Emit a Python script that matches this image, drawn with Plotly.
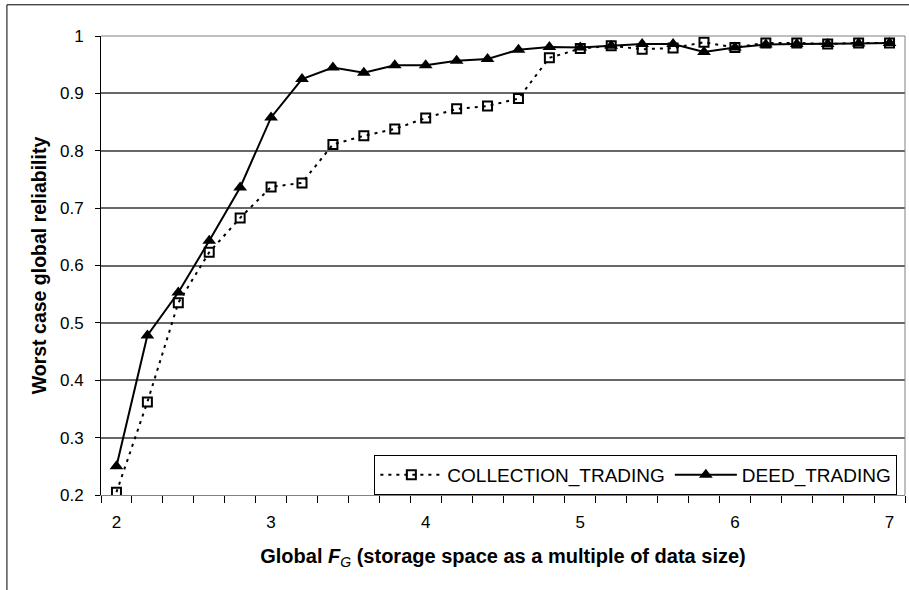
import plotly.graph_objects as go

fg_values = [2.0, 2.2, 2.4, 2.6, 2.8, 3.0, 3.2, 3.4, 3.6, 3.8, 4.0, 4.2, 4.4,
             4.6, 4.8, 5.0, 5.2, 5.4, 5.6, 5.8, 6.0, 6.2, 6.4, 6.6, 6.8, 7.0]
collection_trading = [0.205, 0.362, 0.535, 0.623, 0.683, 0.737, 0.744, 0.811, 0.826,
                      0.838, 0.857, 0.873, 0.878, 0.891, 0.962, 0.978, 0.983, 0.977,
                      0.979, 0.989, 0.980, 0.988, 0.988, 0.986, 0.988, 0.988]
deed_trading = [0.250, 0.478, 0.553, 0.643, 0.736, 0.858, 0.925, 0.945, 0.936,
                0.949, 0.949, 0.957, 0.960, 0.976, 0.981, 0.980, 0.983, 0.986,
                0.986, 0.972, 0.980, 0.985, 0.986, 0.986, 0.987, 0.988]
x_tick_labels = [2, 3, 4, 5, 6, 7]
y_tick_labels = [0.2, 0.3, 0.4, 0.5, 0.6, 0.7, 0.8, 0.9, 1.0]

FONT = "Liberation Sans, Arial, sans-serif"

fig = go.Figure()
fig.add_trace(go.Scatter(
    x=fg_values, y=collection_trading, name="COLLECTION_TRADING",
    mode="lines+markers",
    line=dict(color="black", width=2, dash="3px,5px"),
    marker=dict(symbol="square-open", size=9, color="black", line=dict(width=2, color="black")),
))
fig.add_trace(go.Scatter(
    x=fg_values, y=deed_trading, name="DEED_TRADING",
    mode="lines+markers",
    line=dict(color="black", width=2),
    marker=dict(symbol="triangle-up", size=12, color="black"),
))

# band boundaries for category-style ticks
band_edges = [round(1.9 + 0.2 * i, 1) for i in range(27)]

fig.update_layout(
    width=909, height=590,
    margin=dict(l=101, r=4, t=36, b=95),
    paper_bgcolor="white", plot_bgcolor="white",
    font=dict(family=FONT, size=17, color="black"),
    showlegend=True,
    legend=dict(
        orientation="h", x=0.9905, xanchor="right", y=0.0, yanchor="bottom",
        bordercolor="black", borderwidth=1, bgcolor="white",
        font=dict(family=FONT, size=19, color="black"),
        itemwidth=62, tracegroupgap=0,
    ),
    xaxis=dict(
        range=[1.9, 7.1], tickvals=x_tick_labels, ticktext=[str(v) for v in x_tick_labels],
        ticks="", showgrid=False, zeroline=False, automargin=False,
        showline=True, linecolor="#808080", linewidth=1,
        ticklabelstandoff=12,
        minor=dict(tickvals=band_edges, ticks="outside", ticklen=7, tickcolor="black", tickwidth=1, showgrid=False),
        title=dict(text="<b>Global <i>F</i></b><sub><i>G</i></sub><b> (storage space as a multiple of data size)</b>",
                   font=dict(family=FONT, size=20), standoff=17),
        tickfont=dict(size=17),
    ),
    yaxis=dict(
        range=[0.2, 1.0], tickvals=y_tick_labels,
        ticktext=["0.2", "0.3", "0.4", "0.5", "0.6", "0.7", "0.8", "0.9", "1"],
        ticks="outside", ticklen=5, tickcolor="black", ticklabelstandoff=8,
        showgrid=True, gridcolor="#686868", gridwidth=1.5, zeroline=False, automargin=False,
        showline=True, linecolor="black", linewidth=1,
        title=dict(text="<b>Worst case global reliability</b>", font=dict(family=FONT, size=19.5), standoff=8),
        tickfont=dict(size=17),
    ),
    shapes=[
        # plot area border (top/right)
        dict(type="line", xref="paper", yref="paper", x0=0, x1=1, y0=1, y1=1,
             line=dict(color="#808080", width=1)),
        dict(type="line", xref="paper", yref="paper", x0=1, x1=1, y0=0, y1=1,
             line=dict(color="#808080", width=1)),
        # outer chart border
        dict(type="line", xref="paper", yref="paper", x0=-0.117, x1=-0.117, y0=-0.25, y1=1.068,
             line=dict(color="black", width=1)),
        dict(type="line", xref="paper", yref="paper", x0=-0.117, x1=1.01, y0=1.068, y1=1.068,
             line=dict(color="black", width=1)),
    ],
)

fig.write_html(
    "out.html",
    config={"displayModeBar": False},
    post_script="document.body.style.margin='0';document.body.style.overflow='hidden';",
)
